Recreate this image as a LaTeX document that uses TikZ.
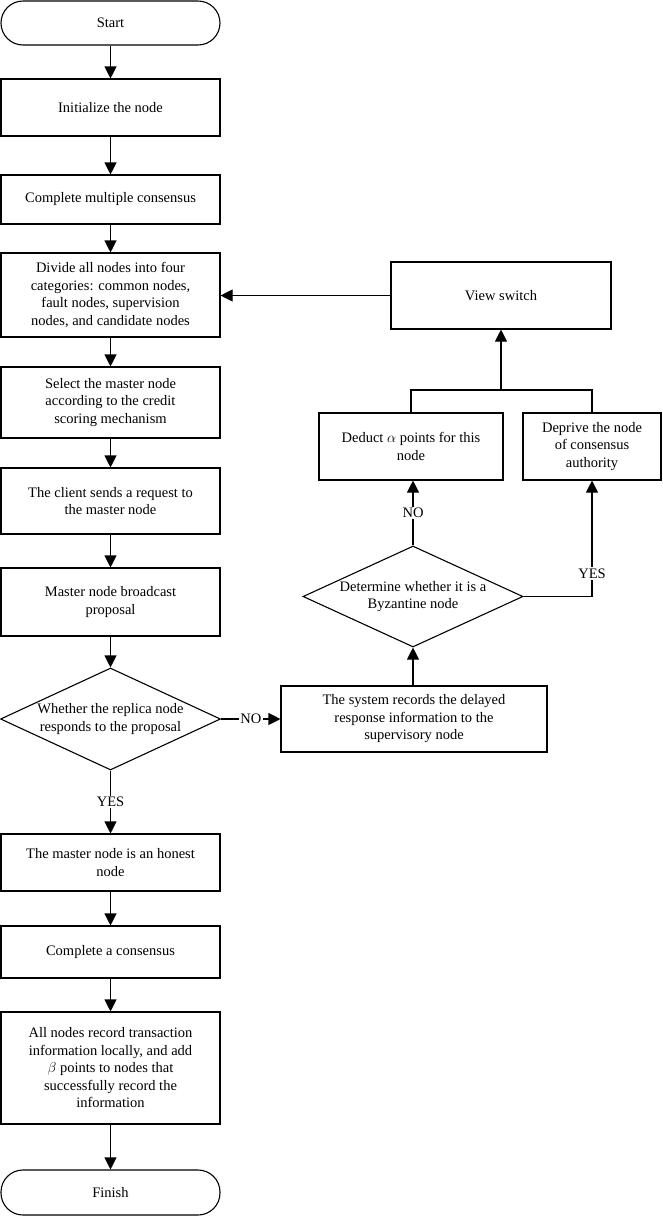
\documentclass[tikz,border=0pt]{standalone}
\usepackage{fontspec}
\setmainfont{Liberation Serif}
\usetikzlibrary{arrows.meta,shapes.geometric}
\begin{document}
\begin{tikzpicture}[x=1pt,y=-1pt,
  every node/.style={font=\fontsize{14.5}{17.5}\selectfont},
  box/.style={draw, line width=1.1pt, inner sep=0pt, align=center},
  term/.style={box, rounded corners=22pt},
  dia/.style={draw, line width=1.1pt, shape=diamond, inner sep=0pt},
  txt/.style={align=center, inner sep=0pt},
  lbl/.style={fill=white, inner sep=1.5pt},
  line/.style={line width=1.1pt},
  arr/.style={line width=1.1pt, -{Triangle[width=12pt,length=12pt]}}
]
\fill[white] (0,0) rectangle (662,1216);
\useasboundingbox (0,0) rectangle (662,1216);

% left column
\node[term, minimum width=219pt, minimum height=44pt] (start) at (110.5,23) {Start};
\node[box, minimum width=219pt, minimum height=57pt] (init) at (110.5,107.5) {Initialize the node};
\node[box, minimum width=219pt, minimum height=49pt] (cmc) at (110.5,199.5) {Complete multiple consensus};
\node[box, minimum width=219pt, minimum height=84pt] (divide) at (110.5,295) {Divide all nodes into four\\categories: common nodes,\\fault nodes, supervision\\nodes, and candidate nodes};
\node[box, minimum width=219pt, minimum height=71pt] (select) at (110.5,402.5) {Select the master node\\according to the credit\\scoring mechanism};
\node[box, minimum width=219pt, minimum height=66pt] (client) at (110.5,501) {The client sends a request to\\the master node};
\node[box, minimum width=219pt, minimum height=68pt] (bcast) at (110.5,602) {Master node broadcast\\proposal};
\node[dia, minimum width=220pt, minimum height=102pt] (d1) at (110.5,719) {};
\node[txt] (d1t) at (d1.center) {Whether the replica node\\responds to the proposal};
\node[box, minimum width=219pt, minimum height=57pt] (honest) at (110.5,862.5) {The master node is an honest\\node};
\node[box, minimum width=219pt, minimum height=52pt] (cons) at (110.5,952) {Complete a consensus};
\node[box, minimum width=219pt, minimum height=112pt] (all) at (110.5,1068) {All nodes record transaction\\information locally, and add\\$\beta$ points to nodes that\\successfully record the\\information};
\node[term, minimum width=219pt, minimum height=45pt] (finish) at (110.5,1192.5) {Finish};

% right part
\node[box, minimum width=220pt, minimum height=67pt] (view) at (501,295.5) {View switch};
\node[box, minimum width=184pt, minimum height=67pt] (deduct) at (411,446.5) {Deduct $\alpha$ points for this\\node};
\node[box, minimum width=138pt, minimum height=67pt] (deprive) at (592,446.5) {Deprive the node\\of consensus\\authority};
\node[dia, minimum width=220pt, minimum height=101pt] (d2) at (413,596.5) {};
\node[txt] (d2t) at (d2.center) {Determine whether it is a\\Byzantine node};
\node[box, minimum width=266pt, minimum height=66pt] (sys) at (414,719) {The system records the delayed\\response information to the\\supervisory node};
\coordinate (j) at (501,390);

% connectors
\draw[arr] (start) -- (init);
\draw[arr] (init) -- (cmc);
\draw[arr] (cmc) -- (divide);
\draw[arr] (divide) -- (select);
\draw[arr] (select) -- (client);
\draw[arr] (client) -- (bcast);
\draw[arr] (bcast) -- (d1);
\draw[arr] (d1.south) -- node[lbl] {YES} (honest);
\draw[arr] (honest) -- (cons);
\draw[arr] (cons) -- (all);
\draw[arr] (all) -- (finish);
\draw[arr] (d1.east) -- node[lbl] {NO} (sys.west);
\draw[arr] (sys.north -| d2.south) -- (d2.south);
\draw[arr] (d2.north) -- node[lbl] {NO} (deduct.south -| d2.north);
\draw[arr] (d2.east) -| node[lbl, pos=0.6] {YES} (deprive.south);
\draw[line] (deduct.north) |- (j);
\draw[line] (deprive.north) |- (j);
\draw[arr] (j) -- (view.south);
\draw[arr] (view.west) -- (divide.east |- view.west);
\end{tikzpicture}
\end{document}
